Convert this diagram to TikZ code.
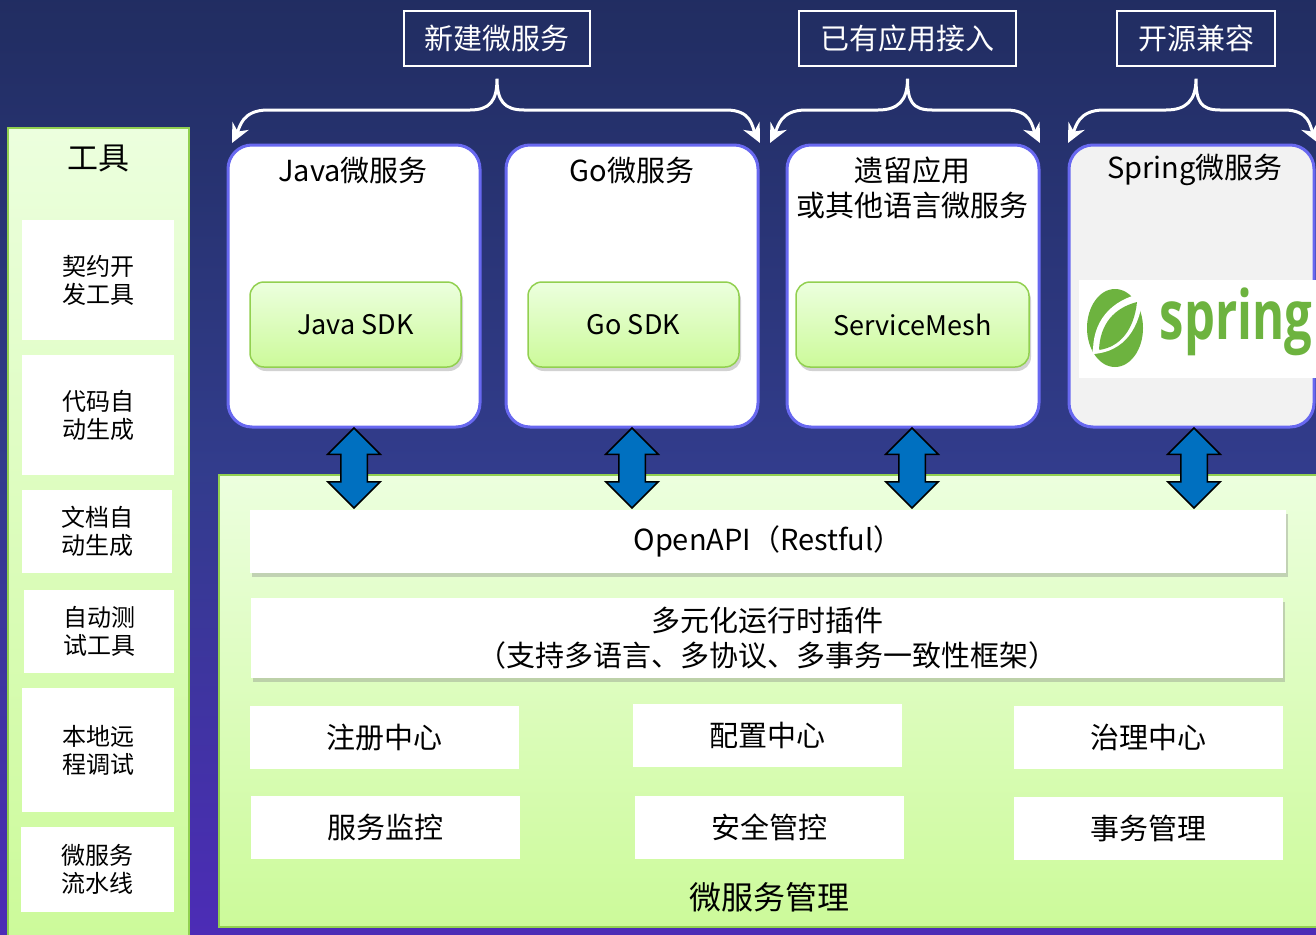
\documentclass[tikz,border=0pt]{standalone}
\usepackage{fontspec}
\setmainfont{Noto Sans CJK SC}
\newfontfamily\logofont{Open Sans}
\usetikzlibrary{arrows.meta,shapes.arrows,shadows}

\definecolor{navy}{RGB}{27,36,72}
\definecolor{deepblue}{RGB}{34,46,100}
\definecolor{midblue}{RGB}{50,60,140}
\definecolor{violet}{RGB}{76,44,182}
\definecolor{purp}{RGB}{94,28,204}
\definecolor{lgreen}{RGB}{236,255,222}
\definecolor{dgreen}{RGB}{204,250,154}
\definecolor{gborder}{RGB}{146,208,80}
\definecolor{svcborder}{RGB}{104,104,240}
\definecolor{arrblue}{RGB}{0,112,192}
\definecolor{springgreen}{RGB}{109,179,63}
\pgfdeclareverticalshading{bgshade}{100bp}{color(0bp)=(purp); color(25bp)=(violet);
  color(50bp)=(midblue); color(73bp)=(deepblue); color(100bp)=(navy)}

\begin{document}
\begin{tikzpicture}[x=1pt,y=-1pt,
  lbl/.style={draw=white, line width=1.5pt, text=white, minimum height=55pt,
    font=\fontsize{29}{35}\selectfont},
  brc/.style={draw=white, line width=3pt, {Stealth[length=19pt,width=18pt]}-{Stealth[length=19pt,width=18pt]}},
  svc/.style={draw=svcborder, line width=3pt, fill=white, rounded corners=24pt,
    minimum width=252pt, minimum height=282pt},
  ttl/.style={inner sep=0pt, align=center, font=\fontsize{29}{35}\selectfont},
  sdk/.style={draw=gborder, line width=1.5pt, top color=lgreen, bottom color=dgreen,
    rounded corners=14pt, minimum height=85pt, font=\fontsize{27}{32}\selectfont,
    drop shadow={shadow xshift=2pt, shadow yshift=-4pt, opacity=.35}},
  dbl/.style={shape=double arrow, draw=black, line width=1.5pt, fill=arrblue, rotate=90,
    minimum height=80pt, inner xsep=0pt, inner ysep=12.5pt, double arrow head extend=13pt},
  panel/.style={draw=gborder, line width=2pt, top color=lgreen, bottom color=dgreen},
  tool/.style={fill=white, minimum width=152pt, align=center,
    font=\fontsize{24}{28}\selectfont},
  bar/.style={fill=white, minimum width=1034pt, align=center,
    font=\fontsize{29}{35}\selectfont,
    drop shadow={shadow xshift=2pt, shadow yshift=-4pt, opacity=.35}},
  cell/.style={fill=white, minimum width=269pt, minimum height=63pt,
    font=\fontsize{29}{35}\selectfont}]

  \useasboundingbox (0,0) rectangle (1316,934);
  \clip (0,0) rectangle (1316,934);
  \shade[shading=bgshade] (0,0) rectangle (1316,934);

  % top labels and braces
  \node[lbl, minimum width=186pt] at (497,38.5) (new) {新建微服务};
  \node[lbl, minimum width=217pt] at (907.5,38.5) (old) {已有应用接入};
  \node[lbl, minimum width=158pt] at (1196,38.5) (open) {开源兼容};
  \coordinate (b1l) at (232,143);
  \coordinate (b1r) at (760,143);
  \coordinate (b2l) at (770,143);
  \coordinate (b2r) at (1040,143);
  \coordinate (b3l) at (1068,143);
  \coordinate (b3r) at (1318,143);
  \draw[brc] (b1l) .. controls +(8,-16) and +(-26,0) .. (268,110) -- (470,110)
    .. controls +(20,0) and +(0,22) .. ([yshift=-12pt]new.south)
    .. controls +(0,22) and +(-20,0) .. (524,110) -- (726,110)
    .. controls +(26,0) and +(-8,-16) .. (b1r);
  \draw[brc] (b2l) .. controls +(8,-16) and +(-26,0) .. (806,110) -- (878,110)
    .. controls +(20,0) and +(0,22) .. ([yshift=-12pt]old.south)
    .. controls +(0,22) and +(-20,0) .. (932,110) -- (1006,110)
    .. controls +(26,0) and +(-8,-16) .. (b2r);
  \draw[brc] (b3l) .. controls +(8,-16) and +(-26,0) .. (1104,110) -- (1166,110)
    .. controls +(20,0) and +(0,22) .. ([yshift=-12pt]open.south)
    .. controls +(0,22) and +(-20,0) .. (1220,110) -- (1284,110)
    .. controls +(26,0) and +(-8,-16) .. (b3r);

  % service boxes
  \node[svc] at (354,286) (java) {};
  \node[svc] at (632,286) (go) {};
  \node[svc] at (913,286) (legacy) {};
  \node[svc, fill={rgb,255:red,242;green,242;blue,242}, minimum width=245pt] at (1191.5,286) (spring) {};
  \node[ttl] at (353,170) (javat) {Java微服务};
  \node[ttl] at (632,170) (got) {Go微服务};
  \node[ttl] at (912,188) (legacyt) {遗留应用\\或其他语言微服务};
  \node[ttl] at (1195,170) (springt) {Spring微服务};
  \node[sdk, minimum width=211pt] at (355.5,324.5) (javasdk) {Java SDK};
  \node[sdk, minimum width=211pt] at (633.5,324.5) (gosdk) {Go SDK};
  \node[sdk, minimum width=233pt] at (912.5,324.5) (mesh) {ServiceMesh};

  % spring logo
  \node[fill=white, minimum width=250pt, minimum height=98pt, inner sep=0pt] at (1204,329) (logo) {};
  \fill[springgreen] (1115,328) ellipse [x radius=28, y radius=39];
  \fill[white] (1093,354) .. controls (1092,322) and (1110,300) .. (1143,293)
    .. controls (1141,328) and (1124,352) .. cycle;
  \fill[springgreen] (1099,350) .. controls (1100,324) and (1114,308) .. (1137,302)
    .. controls (1134,330) and (1120,347) .. cycle;
  \fill[white] (1096,350) circle (3.5);
  \node[text=springgreen, inner sep=0pt, xscale=.72,
    font=\logofont\bfseries\fontsize{68}{80}\selectfont] at (1236,322) (springw) {spring};

  % tools
  \node[panel, minimum width=181pt, minimum height=812pt] at (98.5,534) (tools) {};
  \node[ttl, font=\fontsize{31}{36}\selectfont] at (98,158) (toolst) {工具};
  \node[tool, minimum height=120pt] at (98,280) (t1) {契约开\\发工具};
  \node[tool, minimum height=120pt] at (98,415) (t2) {代码自\\动生成};
  \node[tool, minimum height=83pt, minimum width=150pt] at (97,531.5) (t3) {文档自\\动生成};
  \node[tool, minimum height=83pt, minimum width=150pt] at (99,631.5) (t4) {自动测\\试工具};
  \node[tool, minimum height=124pt] at (98,750) (t5) {本地远\\程调试};
  \node[tool, minimum height=85pt, minimum width=153pt] at (97.5,869.5) (t6) {微服务\\流水线};

  % management
  \node[panel, minimum width=1103pt, minimum height=452pt] at (770.5,701) (mgmt) {};
  \node[bar, minimum height=63pt, minimum width=1036pt] at (768,541.5) (api) {OpenAPI（Restful）};
  \node[bar, minimum height=80pt, minimum width=1032pt] at (767,638) (plugin)
    {多元化运行时插件\\（支持多语言、多协议、多事务一致性框架）};
  \node[cell] at (384.5,737.5) (reg) {注册中心};
  \node[cell] at (767.5,735.5) (conf) {配置中心};
  \node[cell] at (1148.5,737.5) (gov) {治理中心};
  \node[cell] at (385.5,827.5) (mon) {服务监控};
  \node[cell] at (769.5,827.5) (sec) {安全管控};
  \node[cell] at (1148.5,828.5) (tx) {事务管理};
  \node[ttl, font=\fontsize{32}{38}\selectfont] at (769,897) (mgmtt) {微服务管理};

  % links
  \node[dbl] at (354,468) (a1) {};
  \node[dbl] at (632,468) (a2) {};
  \node[dbl] at (912,468) (a3) {};
  \node[dbl] at (1194,468) (a4) {};
\end{tikzpicture}
\end{document}
